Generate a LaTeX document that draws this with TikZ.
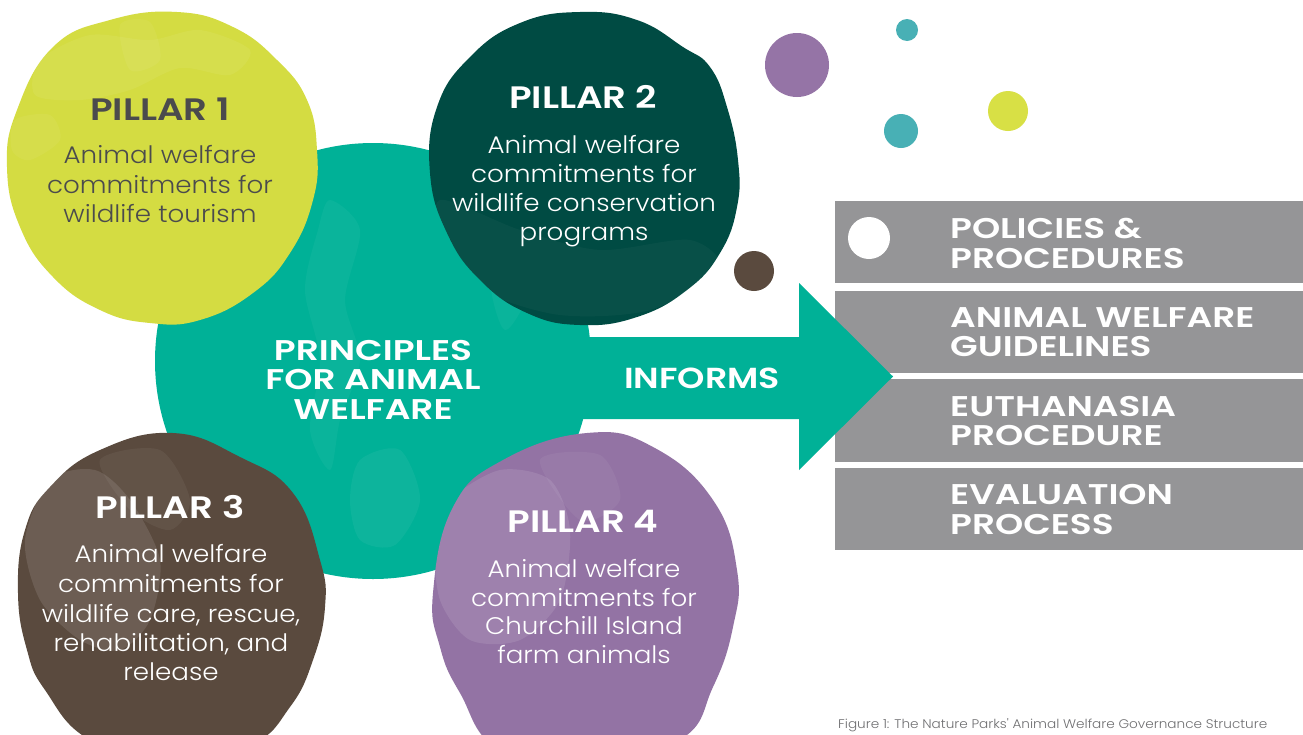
\documentclass[tikz,border=0pt]{standalone}
\usepackage{fontspec}
\newfontfamily\headfont{Poppins SemiBold}[FakeStretch=1.2]
\newfontfamily\wideheadfont{Poppins SemiBold}[FakeStretch=1.26]
\newfontfamily\bodyfont{Poppins Light}[FakeStretch=1.09]
\definecolor{cTeal}{HTML}{00B197}
\definecolor{cLime}{HTML}{D4DC42}
\definecolor{cForest}{HTML}{004B43}
\definecolor{cBrown}{HTML}{5A4A3E}
\definecolor{cPurple}{HTML}{9373A4}
\definecolor{cGrey}{HTML}{959597}
\definecolor{cInk}{HTML}{4B4B4D}
\definecolor{cDotPurple}{HTML}{9574A6}
\definecolor{cDotTeal}{HTML}{48B0B5}
\definecolor{cDotLime}{HTML}{D8E045}
\tikzset{
  pillarhead/.style={font=\headfont\fontsize{31}{31}\selectfont, anchor=base, inner sep=0pt},
  pillarbody/.style={font=\bodyfont\fontsize{24}{24}\selectfont, anchor=base, inner sep=0pt},
  hubtext/.style={font=\wideheadfont\fontsize{28.5}{28.5}\selectfont, anchor=base, inner sep=0pt, text=white},
  listtext/.style={font=\wideheadfont\fontsize{28.5}{28.5}\selectfont, anchor=base west, inner sep=0pt, text=white},
  listbox/.style={fill=cGrey, draw=none},
  patch/.style={fill=white, opacity=0.06},
}
% outlines of the four pillar blobs
\def\blobOne{plot[smooth cycle, tension=0.75] coordinates {(53,47) (110,20) (177,12) (233,27) (277,60) (307,100) (317,150) (313,200) (290,253) (253,293) (200,320) (150,323) (100,310) (53,277) (20,227) (7,167) (17,110)}}
\def\blobTwo{plot[smooth cycle, tension=0.75] coordinates {(470,57) (520,23) (580,12) (637,20) (683,47) (710,67) (727,107) (738,160) (737,207) (720,253) (687,290) (637,317) (580,325) (527,313) (480,280) (447,233) (430,173) (437,107)}}
\def\blobThree{plot[smooth cycle, tension=0.75] coordinates {(50,487) (100,450) (173,433) (240,457) (293,493) (320,560) (325,607) (313,660) (290,707) (250,745) (170,760) (90,740) (45,690) (27,650) (18,593) (25,530)}}
\def\blobFour{plot[smooth cycle, tension=0.75] coordinates {(453,507) (503,460) (587,433) (653,447) (713,500) (737,570) (733,627) (713,687) (680,740) (590,765) (500,750) (460,693) (440,647) (433,593)}}
\begin{document}
\begin{tikzpicture}[x=1pt, y=-1pt]
\useasboundingbox (0,0) rectangle (1303,734);
\fill[white] (0,0) rectangle (1303,734);

% central hub
\fill[cTeal] (373,361) circle (218pt);
\begin{scope}
  \clip (373,361) circle (218pt);
  \fill[patch, opacity=0.04] plot[smooth cycle] coordinates {(330,200) (360,230) (345,300) (360,360) (340,420) (330,470) (310,430) (320,360) (305,290) (318,230)};
  \fill[patch, opacity=0.05] plot[smooth cycle] coordinates {(360,460) (400,450) (420,500) (395,545) (360,540) (350,500)};
  \fill[patch, opacity=0.04] plot[smooth cycle] coordinates {(500,210) (540,220) (530,290) (505,330) (490,280)};
\end{scope}

% list of documents informed by the principles
\fill[listbox] (835,201) rectangle (1303,283);
\fill[listbox] (835,291) rectangle (1303,373);
\fill[listbox] (835,379) rectangle (1303,462);
\fill[listbox] (835,468) rectangle (1303,550);
\fill[white] (869,238) circle (21pt);
\node[listtext] (d1a) at (950,238) {POLICIES \&};
\node[listtext] (d1b) at (950,268) {PROCEDURES};
\node[listtext] (d2a) at (950,327) {ANIMAL WELFARE};
\node[listtext] (d2b) at (950,356) {GUIDELINES};
\node[listtext] (d3a) at (950,416) {EUTHANASIA};
\node[listtext] (d3b) at (950,445) {PROCEDURE};
\node[listtext] (d4a) at (950,504) {EVALUATION};
\node[listtext] (d4b) at (950,534) {PROCESS};

% arrow towards the documents, lying over the list
\fill[cTeal] (560,337) -- (799,337) -- (799,283) -- (893,376.5) -- (799,470) -- (799,419) -- (560,419) -- cycle;
\node[font=\headfont\fontsize{29}{29}\selectfont, text=white, anchor=base west, inner sep=0pt] (informs) at (624,388) {INFORMS};

% pillar 1
\fill[cLime] \blobOne;
\begin{scope}
  \clip \blobOne;
  \fill[patch, opacity=0.06] plot[smooth cycle] coordinates {(40,60) (90,35) (150,40) (200,30) (250,50) (230,75) (180,68) (130,90) (80,100) (35,95)};
  \fill[patch, opacity=0.05] plot[smooth cycle] coordinates {(15,120) (50,115) (60,140) (30,160) (12,150)};
  \fill[patch, opacity=0.05] plot[smooth cycle] coordinates {(120,25) (150,22) (160,60) (130,70)};
\end{scope}
\node[pillarhead, text=cInk] (p1h) at (160,120) {PILLAR 1};
\node[pillarbody, text=cInk] (p1a) at (160,163) {Animal welfare};
\node[pillarbody, text=cInk] (p1b) at (160,193) {commitments for};
\node[pillarbody, text=cInk] (p1c) at (160,222) {wildlife tourism};

% pillar 2
\fill[cForest] \blobTwo;
\begin{scope}
  \clip \blobTwo;
  \fill[patch, opacity=0.03] plot[smooth cycle] coordinates {(440,200) (520,230) (600,250) (690,240) (720,270) (650,310) (560,315) (480,290) (445,250)};
\end{scope}
\node[pillarhead, text=white] (p2h) at (583,108) {PILLAR 2};
\node[pillarbody, text=white] (p2a) at (584,153) {Animal welfare};
\node[pillarbody, text=white] (p2b) at (584,182) {commitments for};
\node[pillarbody, text=white] (p2c) at (584,211) {wildlife conservation};
\node[pillarbody, text=white] (p2d) at (584,240) {programs};

% pillar 3
\fill[cBrown] \blobThree;
\begin{scope}
  \clip \blobThree;
  \fill[patch, opacity=0.11] plot[smooth cycle] coordinates {(50,480) (95,470) (130,500) (160,560) (150,620) (120,650) (80,640) (40,600) (25,540)};
  \fill[patch, opacity=0.05] plot[smooth cycle] coordinates {(100,460) (160,450) (190,500) (170,530) (130,510)};
\end{scope}
\node[pillarhead, text=white] (p3h) at (170,518) {PILLAR 3};
\node[pillarbody, text=white] (p3a) at (171,562) {Animal welfare};
\node[pillarbody, text=white] (p3b) at (171,592) {commitments for};
\node[pillarbody, text=white] (p3c) at (171,622) {wildlife care, rescue,};
\node[pillarbody, text=white] (p3d) at (171,651) {rehabilitation, and};
\node[pillarbody, text=white] (p3e) at (171,680) {release};

% pillar 4
\fill[cPurple] \blobFour;
\begin{scope}
  \clip \blobFour;
  \fill[patch, opacity=0.10] plot[smooth cycle] coordinates {(450,500) (500,470) (550,480) (570,530) (560,600) (520,640) (470,640) (440,600) (435,540)};
  \fill[patch, opacity=0.05] plot[smooth cycle] coordinates {(540,460) (600,455) (620,500) (580,520)};
\end{scope}
\node[pillarhead, text=white] (p4h) at (583,532) {PILLAR 4};
\node[pillarbody, text=white] (p4a) at (584,577) {Animal welfare};
\node[pillarbody, text=white] (p4b) at (584,606) {commitments for};
\node[pillarbody, text=white] (p4c) at (584,634.5) {Churchill Island};
\node[pillarbody, text=white] (p4d) at (584,663) {farm animals};

% hub title
\node[hubtext] (hub1) at (373,360) {PRINCIPLES};
\node[hubtext] (hub2) at (373,389.5) {FOR ANIMAL};
\node[hubtext] (hub3) at (373,419) {WELFARE};

% decorative dots
\fill[cDotPurple] (797,65) circle (32pt);
\fill[cDotTeal] (907,30) circle (11pt);
\fill[cDotTeal] (901,131) circle (17pt);
\fill[cDotLime] (1008,111) circle (20pt);
\fill[cBrown] (754,271) circle (20pt);

% caption along the lower edge
\node[font=\bodyfont\fontsize{12.5}{12.5}\selectfont, text=cInk!80, anchor=base west, inner sep=0pt] (caption) at (838,728) {Figure 1: The Nature Parks' Animal Welfare Governance Structure};
\end{tikzpicture}
\end{document}
